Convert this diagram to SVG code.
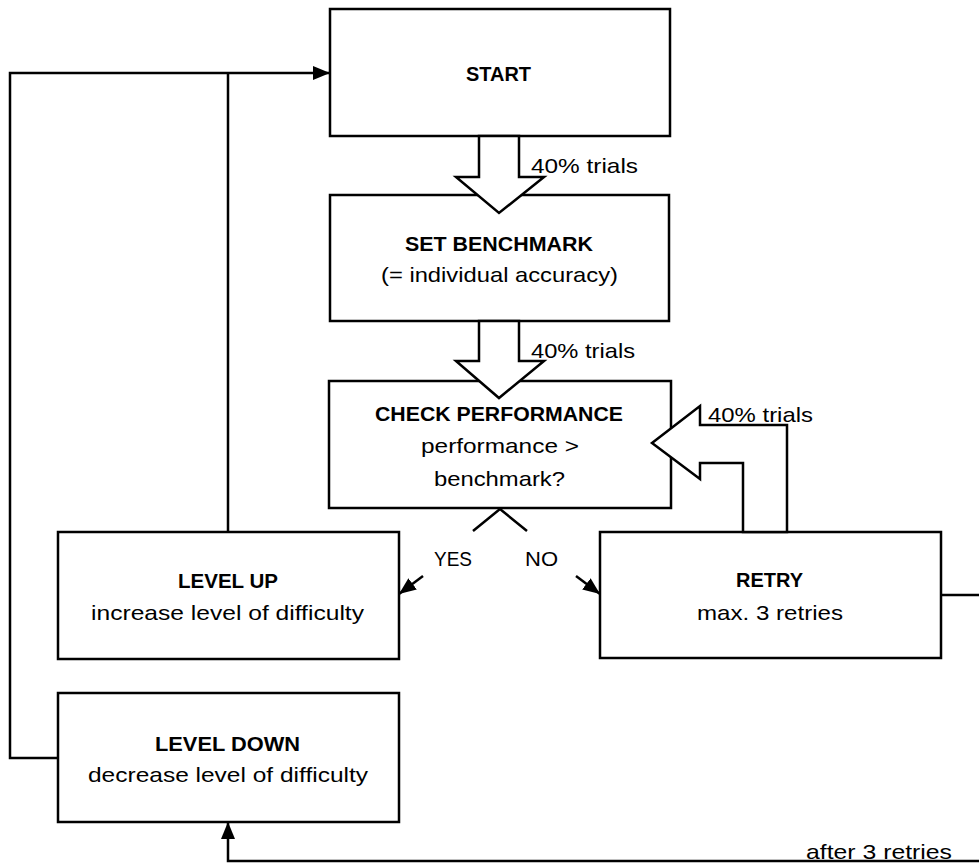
<svg xmlns="http://www.w3.org/2000/svg" width="979" height="864" viewBox="0 0 979 864">
<defs>
<marker id="ah" markerWidth="17" markerHeight="14" refX="17" refY="7" orient="auto" markerUnits="userSpaceOnUse">
<path d="M0,0 L17,7 L0,14 Z" fill="#000"/>
</marker>
<style>
.box{fill:#fff;stroke:#000;stroke-width:2.5}
.blk{fill:#fff;stroke:#000;stroke-width:2.5;stroke-linejoin:miter}
.ln{fill:none;stroke:#000;stroke-width:2.5}
text{font-family:"Liberation Sans",Arial,sans-serif;font-size:21px;fill:#000}
.b{font-weight:bold}
</style>
</defs>
<rect width="979" height="864" fill="#fff"/>
<g id="connectors">
<polyline class="ln" points="58,758 10,758 10,73 330,73" marker-end="url(#ah)"/>
<line class="ln" x1="228" y1="532" x2="228" y2="73"/>
<polyline class="ln" points="941,595 995,595 995,861 228,861 228,822" marker-end="url(#ah)"/>
<polyline class="ln" points="473,531 500,509 527,531"/>
<line class="ln" x1="423" y1="576" x2="399" y2="594" marker-end="url(#ah)"/>
<line class="ln" x1="576" y1="576" x2="600" y2="594" marker-end="url(#ah)"/>
<text x="434" y="566" textLength="38" lengthAdjust="spacingAndGlyphs">YES</text>
<text x="525" y="566" textLength="33" lengthAdjust="spacingAndGlyphs">NO</text>
<text x="806" y="859" textLength="146" lengthAdjust="spacingAndGlyphs">after 3 retries</text>
</g>
<g id="start">
<rect class="box" x="330" y="9" width="340" height="127"/>
<text class="b" x="466" y="81" textLength="65" lengthAdjust="spacingAndGlyphs">START</text>
</g>
<g id="benchmark">
<rect class="box" x="330" y="195" width="339" height="126"/>
<text class="b" x="405" y="251" textLength="188" lengthAdjust="spacingAndGlyphs">SET BENCHMARK</text>
<text x="381" y="282" textLength="237" lengthAdjust="spacingAndGlyphs">(= individual accuracy)</text>
</g>
<g id="check">
<rect class="box" x="329" y="381" width="342" height="127"/>
<text class="b" x="375" y="421" textLength="248" lengthAdjust="spacingAndGlyphs">CHECK PERFORMANCE</text>
<text x="421" y="453" textLength="158" lengthAdjust="spacingAndGlyphs">performance &gt;</text>
<text x="434" y="486" textLength="131" lengthAdjust="spacingAndGlyphs">benchmark?</text>
</g>
<g id="levelup">
<rect class="box" x="58" y="532" width="341" height="127"/>
<text class="b" x="178" y="588" textLength="100" lengthAdjust="spacingAndGlyphs">LEVEL UP</text>
<text x="91" y="620" textLength="273" lengthAdjust="spacingAndGlyphs">increase level of difficulty</text>
</g>
<g id="retry">
<rect class="box" x="600" y="532" width="341" height="126"/>
<text class="b" x="736" y="587" textLength="67" lengthAdjust="spacingAndGlyphs">RETRY</text>
<text x="697" y="620" textLength="146" lengthAdjust="spacingAndGlyphs">max. 3 retries</text>
</g>
<g id="leveldown">
<rect class="box" x="58" y="693" width="341" height="129"/>
<text class="b" x="155" y="751" textLength="145" lengthAdjust="spacingAndGlyphs">LEVEL DOWN</text>
<text x="88" y="782" textLength="280" lengthAdjust="spacingAndGlyphs">decrease level of difficulty</text>
</g>
<g id="block-arrows">
<polygon class="blk" points="479,136 479,177 456,177 499,213 544,177 519,177 519,136"/>
<text x="531" y="173" textLength="107" lengthAdjust="spacingAndGlyphs">40%  trials</text>
<polygon class="blk" points="479,321 479,361 456,361 499,398 544,361 519,361 519,321"/>
<text x="531" y="358" textLength="104" lengthAdjust="spacingAndGlyphs">40% trials</text>
<polygon class="blk" points="787,532 787,425 700,425 700,406 652,443 700,479 700,463 743,463 743,532"/>
<text x="708" y="422" textLength="105" lengthAdjust="spacingAndGlyphs">40% trials</text>
</g>
</svg>
